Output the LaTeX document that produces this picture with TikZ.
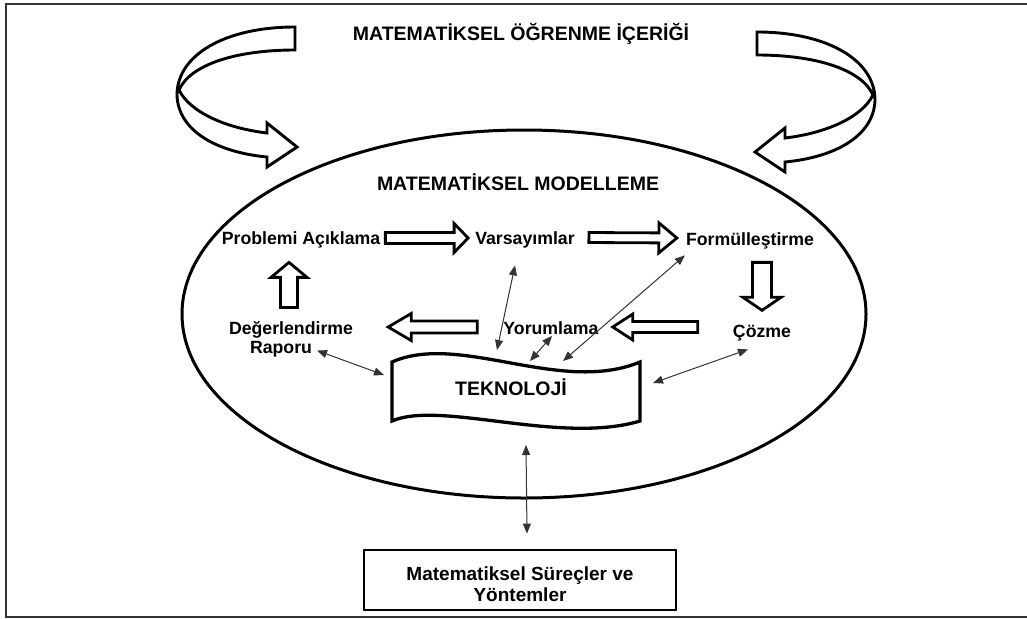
\documentclass[tikz,border=0pt]{standalone}
\usepackage{fontspec}
\setmainfont{Liberation Sans}
\usetikzlibrary{arrows.meta,calc}

% outlined block arrow from #1 to #2: shaft half width #3, head half width #4, head length #5
\newcommand{\blockarrow}[5]{%
  \coordinate (ba-base) at ($(#2)!#5!(#1)$);
  \draw[outline] ($(#1)!#3!90:(#2)$) -- ($(ba-base)!#3!-90:(#1)$) -- ($(ba-base)!#4!-90:(#1)$)
    -- (#2) -- ($(ba-base)!#4!90:(#1)$) -- ($(ba-base)!#3!90:(#1)$) -- ($(#1)!#3!-90:(#2)$) -- cycle;}

\begin{document}
\begin{tikzpicture}[x=1pt,y=-1pt,
  heading/.style={font=\bfseries\fontsize{19.5}{22}\selectfont, inner sep=0pt, anchor=base},
  stage/.style={font=\bfseries\fontsize{17.7}{19}\selectfont, inner sep=0pt, anchor=base},
  outline/.style={draw=black, line width=2.8pt, line join=miter, fill=white},
  link/.style={draw=black!80, line width=1pt,
    {Triangle[length=10pt,width=8pt]}-{Triangle[length=10pt,width=8pt]}},
  swirl/.pic={
    \draw[outline, line width=2.9pt] (295,27) -- (295,50)
      .. controls (235,50) and (190,65) .. (179,90)
      .. controls (190,112) and (225,128) .. (267,133)
      -- (267,123) -- (297,147) -- (267,167) -- (267,157)
      .. controls (215,152) and (178,130) .. (177,95)
      .. controls (177,55) and (225,27) .. (295,27) -- cycle;}
]
\useasboundingbox (0,0) rectangle (1027,619);
\fill[white] (0,0) rectangle (1027,619);

% page frame (open on the right)
\draw[line width=2pt, black!80] (1027,4) -- (6,4) -- (6,617) -- (1027,617);

% title and the two curling arrows
\node[heading] (content) at (521,40) {MATEMATİKSEL ÖĞRENME İÇERİĞİ};
\pic at (0,0) {swirl};
\pic[xscale=-1] at (1052,5) {swirl};

% modelling cycle
\draw[line width=3pt] (524,314) ellipse (342 and 184);
\node[heading] (model) at (518,190) {MATEMATİKSEL MODELLEME};

\node[stage] (prob) at (301,244.5) {Problemi Açıklama};
\node[stage] (var)  at (525,244.5) {Varsayımlar};
\node[stage] (form) at (750,245.5) {Formülleştirme};
\node[stage] (coz)  at (762,337.5) {Çözme};
\node[stage] (yor)  at (551,334.5) {Yorumlama};
\node[stage, anchor=center, align=center] (deg) at (291,339.5)
  {Değerlendirme\\\hspace*{-20pt}Raporu};

% cycle arrows
\coordinate (p1a) at ($(prob.base east)+(5,-6.5)$);
\coordinate (p1b) at ($(var.base west)+(-7,-6.5)$);
\blockarrow{p1a}{p1b}{5.5pt}{14.5pt}{14pt}
\coordinate (p2a) at ($(var.base east)+(14,-7)$);
\coordinate (p2b) at ($(form.base west)+(-9,-7.5)$);
\blockarrow{p2a}{p2b}{5pt}{15pt}{18pt}
\coordinate (p3a) at ($(form.south)+(12,13)$);
\coordinate (p3b) at ($(coz.north)+(0,-14.6)$);
\blockarrow{p3a}{p3b}{9.5pt}{19pt}{13pt}
\coordinate (p4a) at ($(coz.base west)+(-35,-10.5)$);
\coordinate (p4b) at ($(yor.base east)+(14,-7.5)$);
\blockarrow{p4a}{p4b}{5.5pt}{13pt}{20pt}
\coordinate (p5a) at ($(yor.base west)+(-26,-7.5)$);
\coordinate (p5b) at ($(deg.east)+(35,-12.5)$);
\blockarrow{p5a}{p5b}{6pt}{13.5pt}{23pt}
\coordinate (p6a) at ($(deg.north)+(-2,-14)$);
\coordinate (p6b) at ($(prob.south)+(-12,14)$);
\blockarrow{p6a}{p6b}{8.5pt}{18pt}{15pt}

% technology banner
\draw[outline, line width=3.3pt] (392,362) .. controls (460,332) and (560,395) .. (640,362)
  -- (640,421) .. controls (560,445) and (440,400) .. (392,421) -- cycle;
\node[heading] (tek) at (511,395) {TEKNOLOJİ};
\coordinate (tk-w)  at (384,375);
\coordinate (tk-n1) at (497,350);
\coordinate (tk-n2) at (530,361);
\coordinate (tk-n3) at (563,361);
\coordinate (tk-e)  at (653,383);
\coordinate (tk-s)  at (526,445);

% methods box
\node[draw, line width=2.9pt, minimum width=312pt, minimum height=60pt] (box) at (520,580) {};
\node[font=\bfseries\fontsize{19}{21}\selectfont, align=center, inner sep=0pt] (boxtext) at (520,584)
  {Matematiksel Süreçler ve\\Yöntemler};

% links with the technology
\draw[link] ($(deg.south)+(26,-7)$) -- (tk-w);
\draw[link] ($(var.south)+(-10,17)$) -- (tk-n1);
\draw[link] ($(yor.south)+(1,1)$) -- (tk-n2);
\draw[link] ($(form.south west)+(-1,6)$) -- (tk-n3);
\draw[link] ($(coz.south)+(-14,8)$) -- (tk-e);
\draw[link] (tk-s) -- ([xshift=7pt,yshift=15pt]box.north);
\end{tikzpicture}
\end{document}
